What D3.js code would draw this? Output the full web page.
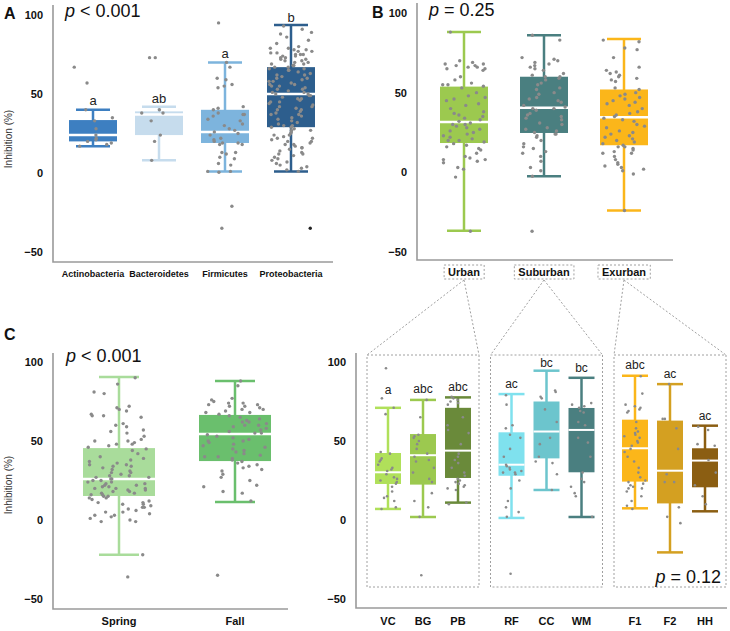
<!DOCTYPE html>
<html><head><meta charset="utf-8">
<script src="https://cdn.jsdelivr.net/npm/d3@7"></script>
<style>
body{margin:0;background:#fff}
svg{display:block}
text{font-family:"Liberation Sans",Arial,Helvetica,sans-serif}
</style>
</head><body>
<svg id="chart" width="730" height="631"></svg>
<script>
// ---------------- DATA ----------------
// Panel A: phyla
const phyla = ["Actinobacteria","Bacteroidetes","Firmicutes","Proteobacteria"];
const phylaColors = ["#3d7fc1","#c6dced","#7db4dd","#2d5e8d"];
// [whiskerLow, Q1, median, Q3, whiskerHigh]
const phylaBoxes = [[17,20,24,33.5,40],[8,24,37,39,42],[1,19,26,40,70],[1,29,50,67,93.7]];
const phylaLetters = ["a","ab","a","b"];
const phylaLetterAt = [43,44,73,95.6];
const phylaPoints = [
  [67,57,40,35,33,28,24,22,21,20,19,18,17],
  [73,73,40,38,38,33,24,20,8],
  [95,70,67,60,59,56,55,54,42,41,40,38,37,37,36,34,33,31,30,28,27,26,25,24,22,21,20,19,19,18,18,13,13,12,10,9,6,5,1,1,0.5,-21,-35],
  [93,91,89,88,86,84,82,80,79,79,78,78,77,77,76,76,75,75,75,74,74,73,73,72,72,71,71,70,70,69,69,68,68,67,67,66,66,65,65,64,63,62,62,61,60,60,59,58,58,57,56,56,55,55,54,53,53,52,51,51,50,50,49,49,48,47,47,46,45,45,44,43,42,42,41,40,40,39,38,37,37,36,35,34,33,32,31,30,30,29,29,28,27,27,26,25,24,24,23,22,22,21,20,20,19,18,18,17,16,16,15,14,13,12,12,11,10,9,8,7,6,5,4,3,2,1,-35]
];

// Panel B: land use
const landUse = ["Urban","Suburban","Exurban"];
const landColors = ["#9cc94f","#4a7f80","#fbb61a"];
const landBoxes = [[-36.7,18.4,31.6,53.8,88],[-2.5,24.7,40.5,60,86],[-24,17,34.5,52,83.7]];
const landPoints = [
  [88,70,69,68,68,67,67,66,66,65,65,64,60,58,56,55,55,54,53,50,48,47,46,45,43,42,40,38,37,36,35,34,33,32,31,30,30,29,28,27,26,25,24,23,22,21,20,20,19,18,17,16,15,14,12,10,9,8,8,7,6,3,2,-3,-37],
  [86,83,72,71,70,69,68,67,66,65,64,62,61,60,60,59,58,56,55,53,52,50,49,47,46,45,44,42,41,40,40,39,37,36,35,34,33,31,30,28,27,26,25,24,24,23,22,20,18,16,15,13,12,10,7,3,1,-2.5,-37],
  [83,82,78,77,72,66,64,63,62,61,60,59,58,57,53,52,50,49,48,47,46,45,44,43,42,40,38,37,36,35,34,33,32,30,29,28,26,25,24,23,22,21,20,19,18,17,16,16,15,14,13,12,12,10,8,6,5,4,3,2,1,-1,-24]
];

// Panel C left: season
const seasons = ["Spring","Fall"];
const seasonColors = ["#a9dc9b","#6abf6d"];
const seasonBoxes = [[-22,15.2,26,45.5,90.5],[11.4,37.3,54.4,66.5,88]];
const seasonPoints = [
  [90,86,81,80,72,71,70,69,67,66,66,65,61,60,59,57,56,55,53,51,50,50,49,48,48,47,46,45,44,42,40,39,38,37,36,35,35,34,34,33,32,31,30,30,29,28,28,27,27,26,26,25,25,24,24,23,23,22,22,21,21,20,20,20,19,19,18,18,17,17,16,16,15,15,14,14,13,12,11,11,10,10,9,8,8,7,6,5,5,4,3,3,2,1,0,-1,-1,-22,-36],
  [88,85,77,76,75,74,74,73,73,72,72,71,70,70,69,68,68,67,66,65,64,63,62,62,61,60,60,59,58,57,56,55,55,54,53,52,51,50,50,49,48,47,46,45,44,43,42,41,40,40,39,38,37,36,35,34,33,32,31,29,27,25,22,21,18,17,12,-35]
];

// Panel C right: sites within land-use groups
const siteGroups = ["Urban","Suburban","Exurban"];
const sites = [["VC","BG","PB"],["RF","CC","WM"],["F1","F2","HH"]];
const siteColors = [["#b0e05a","#9cc94f","#6a8a3a"],["#7fe1ee","#6cc5cd","#4a7f80"],["#fbb61a","#d4a021","#8b5e12"]];
const siteBoxes = [
  [[7,22.8,30.2,42.4,71],[1.9,22.4,41,54.4,76],[11,26.6,43.9,71,77.6]],
  [[1.3,28,35,55.5,79.7],[19,39,56,75,94.5],[1.9,30.2,57,70.9,90]],
  [[7.4,24.3,45.4,63.5,91.3],[-20.5,10.5,31.2,62.9,86],[5.5,20.7,37.6,45.4,59.7]]
];
const siteLetters = [["a","abc","abc"],["ac","bc","bc"],["abc","ac","ac"]];
const siteLetterAt = [[79.7,80.4,81.6],[83.5,96.8,93.7],[95.6,89.9,63.3]];
const sitePoints = [
  [[96,77,71,67,43,42,39,38,37,35,33,32,31,29,27,26,25,24,23,21,18,15,14,12,8,7],
   [76,65,54,53,52,50,48,45,42,40,38,37,33,30,26,24,17,12,8,2,-35],
   [78,77,76,75,74,73,65,60,57,55,48,42,40,38,36,33,30,28,26,25,24,23,22,21,20,19,11,10]],
  [[79,73,60,58,54,52,45,40,35,34,33,32,31,30,30,29,25,20,12,8,5,2,-34],
   [82,81,78,77,70,62,52,48,40,37,36,29,19],
   [74,73,72,71,69,68,62,60,52,49,40,30,26,24,21,17,15,2]],
  [[91,80,73,72,71,70,69,68,62,58,56,55,54,53,52,50,49,47,45,43,40,37,33,30,27,25,24,23,22,21,20,20,18,15,12,9,7],
   [86,64,64,58,45,29,24,24,8,2,-2],
   [59,57,48,47,38,30,22,15,10]]
];

const yTicks = [-50,0,50,100];

// ---------------- DRAWING ----------------
const svg = d3.select("#chart");
const AXIS = "#9a9a9a", DOT = "#8a8a8a";

// deterministic horizontal spread for the dots (layout only)
function jitter(i, k, half){
  const s = Math.sin((i+1)*12.9898 + (k+1)*78.233) * 43758.5453;
  return ((s - Math.floor(s)) - 0.5) * 2 * half;
}

function drawBoxes(g, o){
  o.cats.forEach((c,k)=>{
    const cx = o.x(c), b = o.boxes[k], col = o.colors[k];
    const gg = g.append("g");
    gg.append("line").attr("x1",cx).attr("x2",cx).attr("y1",o.y(b[0])).attr("y2",o.y(b[4]))
      .attr("stroke",col).attr("stroke-width",o.sw);
    [b[0],b[4]].forEach(v=>gg.append("line").attr("x1",cx-o.capW/2).attr("x2",cx+o.capW/2)
      .attr("y1",o.y(v)).attr("y2",o.y(v)).attr("stroke",col).attr("stroke-width",o.sw));
    gg.append("rect").attr("x",cx-o.boxW/2).attr("width",o.boxW)
      .attr("y",o.y(b[3])).attr("height",o.y(b[1])-o.y(b[3])).attr("fill",col);
    gg.append("line").attr("x1",cx-o.boxW/2).attr("x2",cx+o.boxW/2)
      .attr("y1",o.y(b[2])).attr("y2",o.y(b[2])).attr("stroke","#fff").attr("stroke-width",o.msw);
    const seed = (o.seed||0) + k*7;
    gg.selectAll("circle").data(o.points[k]).join("circle")
      .attr("cx",(d,i)=>cx+jitter(i,seed,o.half)).attr("cy",d=>o.y(d)).attr("r",o.r)
      .attr("fill",(d,i)=> (o.darkIdx===k && d===-35) ? "#222" : DOT);
    if(o.letters){
      gg.append("text").attr("x",cx).attr("y",o.y(o.letterAt[k])).attr("text-anchor","middle")
        .attr("font-size",o.letterSize).attr("fill","#222").text(o.letters[k]);
    }
  });
}

function yAxis(x, y, pad){
  const ax = svg.append("g").attr("transform",`translate(${x},0)`)
    .call(d3.axisLeft(y).tickValues(yTicks).tickSize(0).tickPadding(pad));
  ax.select(".domain").remove();
  ax.selectAll("text").attr("font-size",11).attr("font-weight","bold").attr("fill","#111")
    .attr("font-family",'"Liberation Sans",Arial,sans-serif');
}
function frame(x0,yTop,yBot,x1){
  svg.append("path").attr("d",`M${x0},${yTop}V${yBot}H${x1}`).attr("fill","none")
    .attr("stroke",AXIS).attr("stroke-width",1.6);
}
function pText(x,y,rel,val,anchor){
  const t = svg.append("text").attr("x",x).attr("y",y).attr("font-size",18).attr("fill","#111")
    .attr("text-anchor",anchor||"start");
  t.append("tspan").attr("font-style","italic").text("p");
  t.append("tspan").text(" "+rel+" "+val);
}
function panelLetter(x,y,s){
  svg.append("text").attr("x",x).attr("y",y).attr("font-size",16).attr("font-weight","bold").attr("fill","#111").text(s);
}
function yTitle(x,y){
  svg.append("text").attr("transform",`translate(${x},${y}) rotate(-90)`).attr("text-anchor","middle")
    .attr("font-size",10).attr("fill","#333").text("Inhibition (%)");
}
function catLabels(cats, x, y, size){
  svg.append("g").selectAll("text").data(cats).join("text").attr("x",d=>x(d)).attr("y",y)
    .attr("text-anchor","middle").attr("font-size",size).attr("font-weight","bold").attr("fill","#111").text(d=>d);
}

// ---- Panel A ----
const yA = d3.scaleLinear().domain([-50,100]).range([252,15]);
const xA = d3.scalePoint().domain(phyla).range([93,291]);
frame(53,5,262,333);
yAxis(53,yA,10);
yTitle(12,139);
panelLetter(4,19,"A");
pText(65,17,"<","0.001");
drawBoxes(svg.append("g"),{cats:phyla,x:xA,y:yA,boxes:phylaBoxes,colors:phylaColors,points:phylaPoints,
  boxW:48,capW:34,half:22,r:1.7,sw:2.5,msw:2.5,letters:phylaLetters,letterAt:phylaLetterAt,letterSize:13,darkIdx:3,seed:1});
catLabels(phyla,xA,277,9);

// ---- Panel B ----
const yB = d3.scaleLinear().domain([-50,100]).range([252,13]);
const xB = d3.scalePoint().domain(landUse).range([464,624]);
frame(417,3,260,673);
yAxis(417,yB,10);
panelLetter(372,18,"B");
pText(429,16,"=","0.25");
drawBoxes(svg.append("g"),{cats:landUse,x:xB,y:yB,boxes:landBoxes,colors:landColors,points:landPoints,
  boxW:48,capW:34,half:22,r:1.7,sw:2.5,msw:2.5,seed:40});
const labB = svg.append("g");
landUse.forEach(c=>{
  const t = labB.append("text").attr("x",xB(c)).attr("y",276).attr("text-anchor","middle")
    .attr("font-size",11).attr("font-weight","bold").attr("fill","#111").text(c);
  const bb = t.node().getBBox();
  labB.insert("rect","text").attr("x",bb.x-4).attr("y",265).attr("width",bb.width+8).attr("height",14)
    .attr("fill","none").attr("stroke","#a0a0a0").attr("stroke-dasharray","2,2").attr("stroke-width",1);
});

// ---- Panel C left ----
const yC = d3.scaleLinear().domain([-50,100]).range([599,362]);
const xC = d3.scalePoint().domain(seasons).range([119,235]);
frame(53,353,609,288);
yAxis(53,yC,10);
yTitle(12,485);
panelLetter(4,340,"C");
pText(66,362,"<","0.001");
drawBoxes(svg.append("g"),{cats:seasons,x:xC,y:yC,boxes:seasonBoxes,colors:seasonColors,points:seasonPoints,
  boxW:72,capW:40,half:32,r:1.7,sw:2.5,msw:2.5,seed:80});
catLabels(seasons,xC,625,11);

// ---- Panel C right ----
const xG = d3.scalePoint().domain(siteGroups).range([423,670]);
const inner = d3.scalePoint().domain([0,1,2]).range([-35,35]);
frame(356,353,608,727);
yAxis(356,yC,10);
siteGroups.forEach((gname,gi)=>{
  const gc = xG(gname);
  const xs = s => gc + inner(sites[gi].indexOf(s));
  const left = gc-56, right = Math.min(gc+56, 726.5);
  svg.append("rect").attr("x",left).attr("y",355).attr("width",right-left).attr("height",232)
    .attr("fill","none").attr("stroke","#a0a0a0").attr("stroke-dasharray","2,2").attr("stroke-width",1);
  const lx = xB(gname);
  [left,right].forEach(ex=>svg.append("line").attr("x1",lx).attr("y1",280).attr("x2",ex).attr("y2",355)
    .attr("stroke","#a0a0a0").attr("stroke-dasharray","2,2").attr("stroke-width",1));
  drawBoxes(svg.append("g"),{cats:sites[gi],x:xs,y:yC,boxes:siteBoxes[gi],colors:siteColors[gi],points:sitePoints[gi],
    boxW:26,capW:26,half:11,r:1.3,sw:2.5,msw:2,letters:siteLetters[gi],letterAt:siteLetterAt[gi],letterSize:12,seed:120+gi*30});
  catLabels(sites[gi],xs,625,11);
});
pText(721,583,"=","0.12","end");
</script>
</body></html>
